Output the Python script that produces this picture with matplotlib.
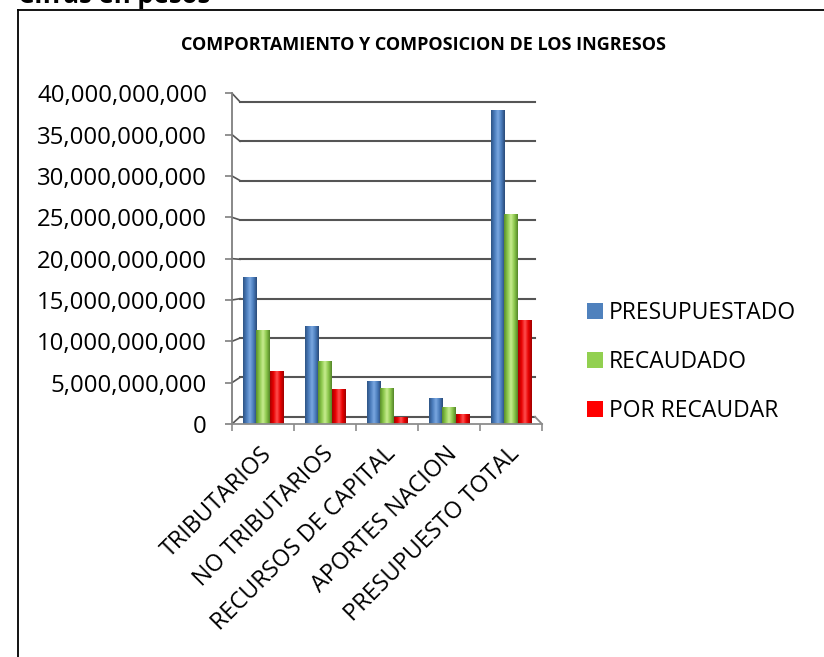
import numpy as np
import matplotlib
matplotlib.use("Agg")
import matplotlib.pyplot as plt
import matplotlib.transforms as mtransforms
from matplotlib.colors import LinearSegmentedColormap
from matplotlib.lines import Line2D

plt.rcParams['font.family'] = ['Open Sans', 'DejaVu Sans']

# ---- data ----
categories = ["TRIBUTARIOS", "NO TRIBUTARIOS", "RECURSOS DE CAPITAL",
              "APORTES NACION", "PRESUPUESTO TOTAL"]
presupuestado = [17.8e9, 11.8e9, 5.2e9, 3.2e9, 38.0e9]
recaudado = [11.4e9, 7.6e9, 4.4e9, 2.0e9, 25.4e9]
por_recaudar = [6.4e9, 4.2e9, 0.8e9, 1.2e9, 12.6e9]
series_names = ["PRESUPUESTADO", "RECAUDADO", "POR RECAUDAR"]
y_ticks = [0, 5e9, 10e9, 15e9, 20e9, 25e9, 30e9, 35e9, 40e9]
title = "COMPORTAMIENTO Y COMPOSICION DE LOS INGRESOS"
top_note = "Cifras en pesos"

series = [presupuestado, recaudado, por_recaudar]
base_colors = ["#4f81bd", "#92d050", "#ff0000"]
grad_colors = [
    ["#2e5485", "#4a7cbc", "#7aa8e0", "#4a7cbc", "#2a4a78"],
    ["#5a8f2a", "#8cc84c", "#c8ec90", "#8cc84c", "#548528"],
    ["#a80000", "#e80000", "#ff5050", "#e80000", "#a00000"],
]

W, H = 824, 657
fig = plt.figure(figsize=(W / 100, H / 100), dpi=100)


def fx(px):
    return px / W


def fy(py):
    return 1 - py / H


ax = fig.add_axes([fx(232), fy(424), fx(542) - fx(232), fy(93.3) - fy(424)])
ax.patch.set_visible(False)
for s in ["top", "right", "bottom"]:
    ax.spines[s].set_visible(False)
ax.spines["left"].set_color("#7f7f7f")
ax.spines["left"].set_linewidth(1.3)

grid_c = "#555555"
dx = 0.13


def back(v):
    return 0.88e9 + 0.952 * v


# back-wall gridlines with perspective connectors
for v in y_ticks:
    ax.plot([-0.5, -0.5 + dx], [v, back(v)], color=grid_c, lw=1.2, zorder=1,
            clip_on=False)
    ax.plot([-0.5 + dx, 4.387], [back(v), back(v)], color=grid_c, lw=1.5,
            zorder=1, clip_on=False)
# floor
ax.plot([-0.5, 4.5], [0, 0], color="#8c8c8c", lw=1.3, zorder=4, clip_on=False)
ax.plot([4.387, 4.5], [back(0), 0], color="#8c8c8c", lw=1.3, zorder=4,
        clip_on=False)

# bars
x = np.arange(len(categories))
w = 0.215
offsets = [-w, 0, w]
for vals, off, col, gcols, name in zip(series, offsets, base_colors,
                                        grad_colors, series_names):
    bars = ax.bar(x + off, vals, width=w, color=col, zorder=2, label=name,
                  linewidth=0)
    cm = LinearSegmentedColormap.from_list("c", gcols)
    grad = np.linspace(0, 1, 64).reshape(1, -1)
    for b in bars:
        bx, bw, bh = b.get_x(), b.get_width(), b.get_height()
        im = ax.imshow(grad, extent=[bx, bx + bw, 0, bh], aspect="auto",
                       cmap=cm, zorder=3, interpolation="bilinear")
        im.set_clip_path(b)

ax.set_xlim(-0.5, 4.5)
ax.set_ylim(0, 40e9)

ax.set_yticks(y_ticks)
ax.set_yticklabels([f"{int(v):,}" for v in y_ticks])
ax.tick_params(axis="y", length=5, width=1.2, color="#7f7f7f", pad=13,
               labelsize=17.3, labelcolor="black")

ax.set_xticks(np.arange(-0.5, 4.6, 1.0))
ax.set_xticklabels([])
ax.tick_params(axis="x", which="major", length=5, width=1.2,
               color="#8c8c8c")
ax.set_xticks(x, minor=True)
ax.set_xticklabels(categories, minor=True, rotation=45, ha="right",
                   va="center", rotation_mode="anchor")
ax.tick_params(axis="x", which="minor", length=0, pad=19, labelsize=16.8)
shift = mtransforms.ScaledTranslation(5 / 100, 0, fig.dpi_scale_trans)
for lbl in ax.get_xticklabels(minor=True):
    lbl.set_transform(lbl.get_transform() + shift)

# legend
handles = [Line2D([], [], marker="s", linestyle="none", markersize=11,
                  markerfacecolor=c, markeredgewidth=0) for c in base_colors]
fig.legend(handles, series_names, loc="upper left",
           bbox_to_anchor=(fx(588), fy(301)), frameon=False, fontsize=16.5,
           handlelength=0.6, handletextpad=0.3, labelspacing=1.1,
           borderpad=0, borderaxespad=0)

fig.text(fx(423), fy(45), title, ha="center", va="center", fontsize=13,
         fontweight="bold")
fig.text(fx(18), fy(3), top_note, ha="left", va="baseline", fontsize=18.5,
         fontweight="bold")

# outer frame
fig.add_artist(Line2D([fx(17.5), fx(17.5)], [fy(9.5), 0], color="black",
                      lw=1.3, transform=fig.transFigure))
fig.add_artist(Line2D([fx(17.5), 1], [fy(9.5), fy(9.5)], color="black",
                      lw=1.3, transform=fig.transFigure))

fig.savefig("out.png", dpi=100)
